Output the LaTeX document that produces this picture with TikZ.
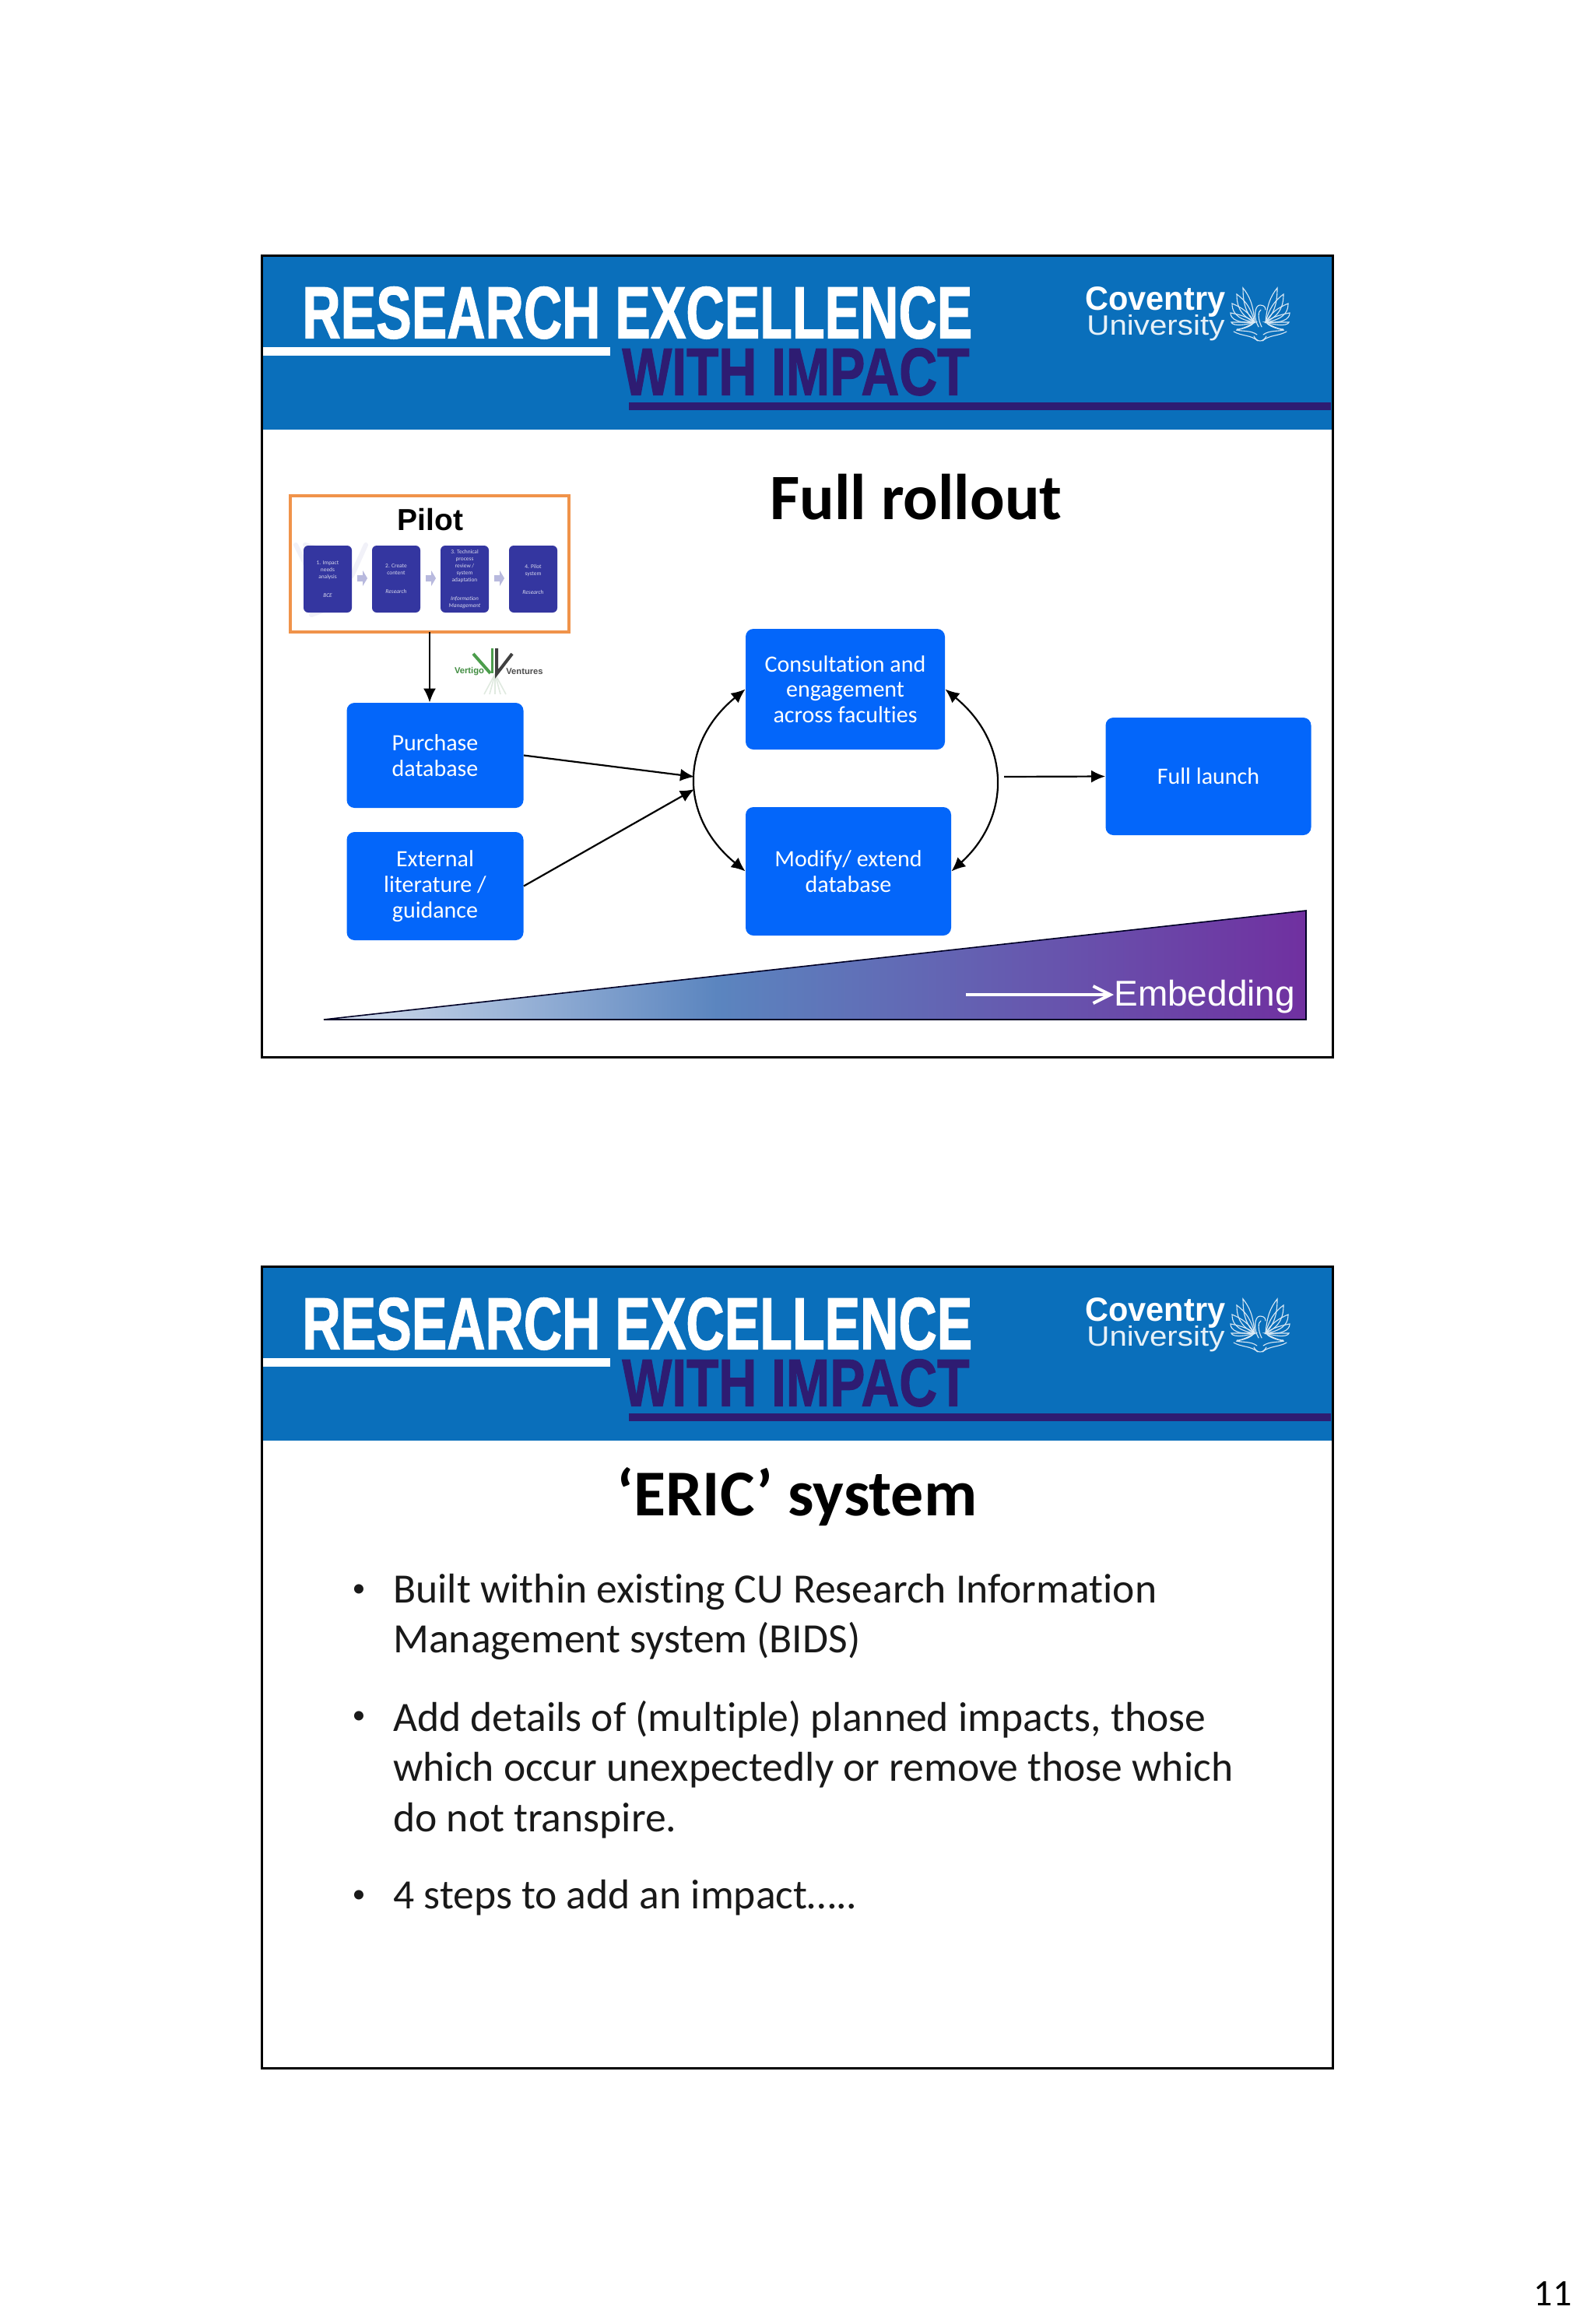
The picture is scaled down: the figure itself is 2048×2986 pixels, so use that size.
\documentclass[tikz,border=0pt]{standalone}
\usepackage{fontspec}
\setmainfont{Carlito}[Ligatures=NoCommon]
\newfontfamily\arialf{Liberation Sans}
\newfontfamily\heavyf{Liberation Sans Bold}[FakeBold=1.5]
\usetikzlibrary{arrows.meta}
\definecolor{hdrblue}{HTML}{0A6FBB}
\definecolor{hdrpurple}{HTML}{2E1C72}
\definecolor{boxblue}{HTML}{0366FA}
\definecolor{pilotblue}{HTML}{3436A0}
\definecolor{pilotorange}{HTML}{F0934A}
\definecolor{embA}{HTML}{D5DFEE}
\definecolor{embB}{HTML}{5B85BF}
\definecolor{embC}{HTML}{7030A0}
\pgfdeclarehorizontalshading{embshade}{100bp}{
  color(0bp)=(embA);
  color(25bp)=(embA); color(45bp)=(embB); color(75bp)=(embC); color(100bp)=(embC)}
\tikzset{
  frameline/.style={draw=black,line width=1.5pt},
  flowbox/.style={fill=boxblue,rounded corners=5pt,text=white,align=center,font=\fontsize{15}{16.4}\selectfont,inner sep=0pt},
  pilotbox/.style={fill=pilotblue,rounded corners=3pt,text=pilotblue!20!white,align=center,font=\fontsize{3.7}{4.5}\selectfont,inner sep=0pt,minimum width=31pt,minimum height=43pt},
  pilotarrow/.style={fill=pilotblue!35!white,draw=none},
  conn/.style={draw=black,line width=1.1pt,-{Latex[length=9pt,width=8pt]}},
  twoway/.style={draw=black,line width=1.1pt,{Latex[length=9pt,width=8pt]}-{Latex[length=9pt,width=8pt]}},
  bodytext/.style={anchor=west,align=left,inner sep=0pt,font=\fontsize{26.8}{32.4}\selectfont,text=black!90},
  bulletmark/.style={anchor=center,inner sep=0pt,font=\fontsize{17}{20}\selectfont,text=black!90},
  feather/.style={draw=white!85!hdrblue,line width=0.55pt,line cap=round},
}
\newcommand{\slideheader}[2]{%
  \begin{scope}[shift={(0,#2)}]
    \fill[white] (336,328) rectangle (1712,1358);
    \fill[hdrblue] (336,328) rectangle (1712,552);
    \fill[white] (338,446) rectangle (784,457);
    \fill[hdrpurple] (808,517) rectangle (1710,527);
    \node[anchor=north west,inner sep=0pt,text=white] (#1res) at (388,368)
      {\resizebox{430.5pt}{33pt}{\heavyf RESEARCH EXCELLENCE}};
    \node[anchor=north west,inner sep=0pt,text=hdrpurple] (#1imp) at (799,447)
      {\resizebox{223pt}{30pt}{\heavyf WITH IMPACT}};
    \node[anchor=south west,inner sep=0pt,text=white] (#1cov) at (1394,399)
      {\resizebox{90pt}{15pt}{\arialf\bfseries Covent\smash{r}\smash{y}}};
    \node[anchor=south west,inner sep=0pt,text=white!90!hdrblue] (#1uni) at (1396,431)
      {\resizebox{88.5pt}{13pt}{\arialf Universit\smash{y}}};
    \foreach \s in {1,-1}{
      \begin{scope}[shift={(1619,0)},xscale=\s]
        \foreach \tx/\ty in {22/370,30/378,36/390,38/402,37/414,30/424}{
          \draw[feather] (7,414) .. controls ({\tx*0.95},{(\ty+414)/2+8}) and ({\tx},{\ty+(414-\ty)*0.3}) .. (\tx,\ty)
             .. controls ({\tx*0.6},{\ty+(414-\ty)*0.25}) and ({\tx*0.4},{(\ty+414)/2}) .. cycle;}
        \draw[feather] (3,438) .. controls (12,430) and (24,432) .. (34,426);
        \draw[feather] (4,430) .. controls (12,424) and (24,426) .. (30,424);
      \end{scope}}
    \draw[feather] (1617,420) .. controls (1610,408) and (1612,392) .. (1619,392) .. controls (1625,392) and (1626,396) .. (1626,398);
    \draw[feather] (1621,420) .. controls (1616,410) and (1616,400) .. (1620,398);
    \draw[feather] (1611,432) .. controls (1615,440) and (1623,440) .. (1627,432);
    \draw[frameline] (336,328) rectangle (1712,1358);
  \end{scope}}
\begin{document}
\begin{tikzpicture}[x=0.5pt,y=-0.5pt]
\useasboundingbox (0,0) rectangle (2048,2986);
\fill[white] (0,0) rectangle (2048,2986);

\slideheader{a}{0}
\slideheader{b}{1299}

% slide 1
\node[inner sep=0pt,font=\fontsize{41.6}{50}\bfseries\selectfont] (title1) at (1177,639) {Full rollout};

% pilot
\draw[draw=pilotorange,line width=1.8pt,fill=white] (373,637) rectangle (731,812);
\coordinate (pilotbot) at (552,812);
\draw[draw=pilotblue!7,line width=3pt,line cap=round] (392,700) -- (430,712) (395,730) -- (380,700) (400,790) -- (440,775) (470,700) -- (452,740);
\node[inner sep=0pt,font=\fontsize{19.5}{23}\arialf\bfseries\selectfont] (pilot) at (553,668) {Pilot};
\node[pilotbox] (p1) at (421,744) {1. Impact\\needs\\analysis\\[7.5pt]\itshape BCE};
\node[pilotbox] (p2) at (509,744) {2. Create\\content\\[7.5pt]\itshape Research};
\node[pilotbox] (p3) at (597,744) {3. Technical\\process\\review /\\system\\adaptation\\[7.5pt]\itshape Information\\\itshape Management};
\node[pilotbox] (p4) at (685,744) {4. Pilot\\system\\[7.5pt]\itshape Research};
\foreach \x in {459,547,635}{
  \fill[pilotarrow] (\x,739) -- (\x+7,739) -- (\x+7,733) -- (\x+13,743) -- (\x+7,753) -- (\x+7,747) -- (\x,747) -- cycle;}

% vertigo logo
\foreach \a in {-14,-7,0,7,14}{\draw[draw=green!30!black!12!white,line width=0.8pt] (636,866) -- ++(\a,26);}
\draw[draw=green!45!black!70!white,line width=2pt] (608,840) -- (630,865);
\draw[draw=green!45!black!70!white,line width=1.5pt] (632,833) -- (632,865);
\draw[draw=black!75,line width=2pt] (638,833) -- (638,866) -- (658,840);
\node[inner sep=0pt,text=green!40!black!75!white,font=\fontsize{5.6}{7}\arialf\bfseries\selectfont] (vert) at (603,863) {Vertigo};
\node[inner sep=0pt,text=black!70,font=\fontsize{5.6}{7}\arialf\bfseries\selectfont] (vent) at (674,863) {Ventures};

% flow boxes
\node[flowbox,minimum width=113.5pt,minimum height=67.5pt] (purchase) at (559,970.5) {Purchase\\database};
\node[flowbox,minimum width=113.5pt,minimum height=69.5pt] (external) at (559,1138.5) {External\\literature /\\guidance};
\node[flowbox,minimum width=128pt,minimum height=77.5pt] (consult) at (1086,885.5) {Consultation and\\engagement\\across faculties};
\node[flowbox,minimum width=132pt,minimum height=82.5pt] (modify) at (1090,1119.5) {Modify/ extend\\database};
\node[flowbox,minimum width=132pt,minimum height=75.5pt] (launch) at (1552.5,997.5) {Full launch};

\coordinate (leftmid) at (892,998);
\coordinate (leftin) at (892,1014);
\coordinate (rightout) at (1290,998);

\draw[conn] (pilotbot) -- (purchase.north -| pilotbot);
\draw[conn] (purchase.east) -- (leftmid);
\draw[conn] (external.east) -- (leftin);
\draw[twoway] (consult.west) .. controls (873,955) and (873,1050) .. (modify.west);
\draw[twoway] (consult.east) .. controls (1299,955) and (1299,1050) .. (modify.east);
\draw[conn] (rightout) -- (launch.west);

% embedding wedge
\coordinate (wa) at (416,1310);
\coordinate (wb) at (1678,1310);
\coordinate (wc) at (1678,1170);
\shadedraw[shading=embshade,draw=black!85!blue,line width=0.8pt] (wa) -- (wb) -- (wc) -- cycle;
\node[anchor=base west,inner sep=0pt,text=white,font=\fontsize{23}{26}\arialf\selectfont] (emb) at (1431,1292) {Embedding};
\coordinate (embstart) at (1241,1278);
\draw[draw=white,line width=2pt,-{Straight Barb[length=11pt,width=11pt]}] (embstart) -- (emb.west |- embstart);

% slide 2
\node[inner sep=0pt,font=\fontsize{42}{50}\bfseries\selectfont] (title2) at (1024,1923) {‘ERIC’ system};
\node[bulletmark] (b1) at (461,2044) {•};
\node[bodytext] (t1) at (505,2077.5) {Built within existing CU Research Information\\Management system (BIDS)};
\node[bulletmark] (b2) at (461,2207) {•};
\node[bodytext] (t2) at (505,2273.5) {Add details of (multiple) planned impacts, those\\which occur unexpectedly or remove those which\\do not transpire.};
\node[bulletmark] (b3) at (461,2437) {•};
\node[bodytext] (t3) at (505,2438.5) {4 steps to add an impact…..};

\node[inner sep=0pt,font=\fontsize{24}{28}\selectfont] (pagenum) at (1995,2947) {11};
\end{tikzpicture}
\end{document}
